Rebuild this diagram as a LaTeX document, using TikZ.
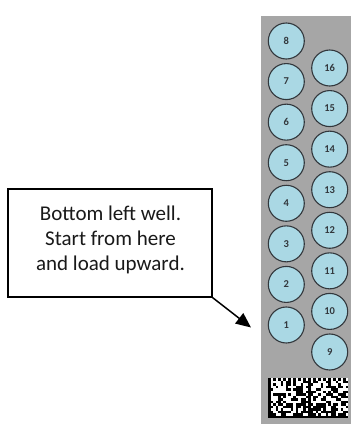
\documentclass[tikz,border=0pt]{standalone}
\usepackage{fontspec}
\setmainfont{Carlito}
\usetikzlibrary{arrows.meta}
\definecolor{stripgray}{RGB}{166,166,166}
\definecolor{wellblue}{RGB}{170,216,228}
\definecolor{welledge}{RGB}{50,55,60}
\definecolor{textdark}{RGB}{25,25,25}
\tikzset{
  well/.style={circle, draw=welledge, line width=1.1pt, fill=wellblue,
    minimum size=36pt, inner sep=0pt, text=welledge,
    font=\fontsize{10.5}{11}\selectfont\bfseries},
  notebox/.style={draw=black, line width=1.3pt, fill=white,
    minimum width=204pt, minimum height=108pt, inner sep=0pt},
  notetext/.style={align=center, text=textdark, inner sep=0pt,
    font=\fontsize{21}{25.3}\selectfont},
  pointer/.style={draw=black, line width=1.5pt,
    -{Triangle[length=15pt,width=13pt]}}
}
\begin{document}
\begin{tikzpicture}[x=1pt,y=-1pt]
\useasboundingbox (0,0) rectangle (355,424);
\fill[white] (0,0) rectangle (355,424);
% plate strip
\fill[stripgray] (261,16) rectangle (351,424);
% left column 8..1
\foreach \n [count=\k from 0] in {8,7,6,5,4,3,2,1}
  \node[well] (w\n) at (286.3,{41+\k*40.57}) {\n};
% right column 16..9
\foreach \n [count=\k from 0] in {16,15,14,13,12,11,10,9}
  \node[well] (w\n) at (329.7,{68+\k*40.57}) {\n};
% barcode
\pgfmathsetseed{4242}
\foreach \bx in {268,308} {
  \fill[white] (\bx,378) rectangle ++(40,40);
  \foreach \i in {1,...,14} {
    \foreach \j in {1,...,14} {
      \pgfmathrandominteger{\r}{0}{1}
      \ifnum\r=1 \fill[black] ({\bx+\i*2.5},{378+\j*2.5}) rectangle ++(2.5,2.5); \fi
    }
  }
  \fill[black] (\bx,378) rectangle ++(2.5,40);
  \fill[black] (\bx,415.5) rectangle ++(40,2.5);
  \foreach \i in {0,2,...,14}
    \fill[black] ({\bx+\i*2.5},378) rectangle ++(2.5,2.5);
  \foreach \j in {1,3,...,15}
    \fill[black] ({\bx+37.5},{378+\j*2.5}) rectangle ++(2.5,2.5);
}
% callout
\node[notebox] (note) at (110,243) {};
\node[notetext] (notetxt) at (110.5,240) {Bottom left well.\\Start from here\\and load upward.};
\coordinate (tip) at (251,327.5);
\draw[pointer] (note.south east) -- (tip);
\end{tikzpicture}
\end{document}
